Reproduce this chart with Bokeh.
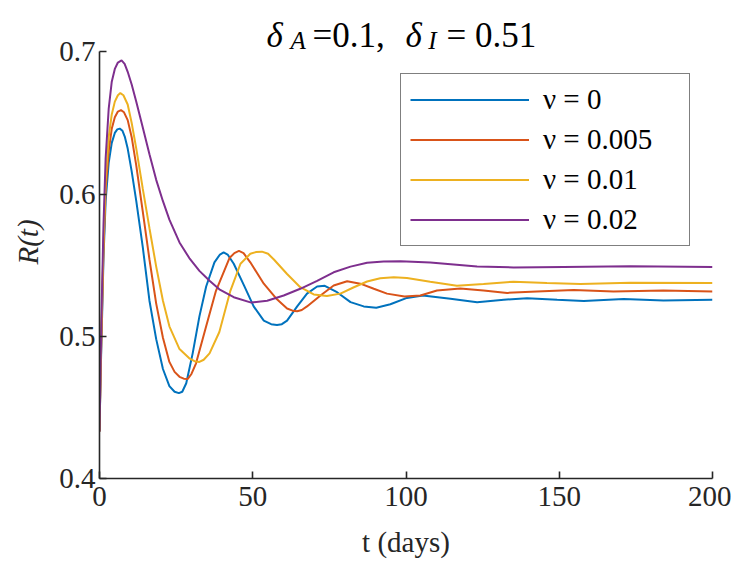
from bokeh.plotting import figure
from bokeh.models import Label, Legend, LegendItem, Range1d, FixedTicker
from bokeh.embed import file_html
from bokeh.resources import INLINE

# ---- data ----
labels = ["ν = 0", "ν = 0.005", "ν = 0.01", "ν = 0.02"]
colors = ["#0072BD", "#D95319", "#EDB120", "#7E2F8E"]

blue_t = [0, 0.4, 0.8, 1.3, 2, 3, 4, 5, 5.8, 6.6, 7.5, 8.3, 9.2, 10.5, 12, 14.1, 16.3, 18.5, 20.7,
          22.8, 24.5, 25.9, 27, 28.3, 30.4, 32.6, 34.8, 37.5, 39.3, 40.5, 41.8, 43.8, 47.1, 50.3,
          53.6, 56, 57.9, 59.5, 61.2, 64.5, 67.7, 71, 73.5, 77.5, 81.9, 86.2, 90.3, 94.9, 100.3,
          105.5, 114.5, 123.2, 131.9, 139.5, 149.3, 158, 171, 184, 200]
blue_r = [0.433, 0.475, 0.51, 0.555, 0.595, 0.622, 0.636, 0.643, 0.6455, 0.646, 0.6445, 0.640,
          0.632, 0.616, 0.595, 0.563, 0.525, 0.498, 0.477, 0.465, 0.461, 0.460, 0.461, 0.467, 0.488,
          0.514, 0.535, 0.552, 0.5575, 0.559, 0.5575, 0.551, 0.536, 0.521, 0.511, 0.5085, 0.508,
          0.5085, 0.511, 0.521, 0.530, 0.535, 0.5355, 0.531, 0.524, 0.521, 0.520, 0.5225, 0.527,
          0.5287, 0.5264, 0.524, 0.5257, 0.5268, 0.5257, 0.5248, 0.5262, 0.5252, 0.5257]

red_t = [0, 0.4, 0.8, 1.3, 2, 3, 4, 5, 6, 7.0, 8, 9.2, 10.5, 12, 14.1, 16.3, 18.5, 20.7, 22.8, 24.5,
         26.1, 27.5, 28.8, 30, 31.5, 34.8, 38, 42.4, 44, 45.5, 47, 49.2, 53.6, 57.9, 61.2, 63,
         64.5, 66, 67.7, 72.1, 76.4, 80.8, 85.1, 89.5, 93.8, 99.5, 104.7, 110.1, 117.7, 125.3, 133,
         142.7, 154.7, 167.7, 184, 200]
red_r = [0.433, 0.478, 0.515, 0.56, 0.603, 0.630, 0.646, 0.654, 0.658, 0.659, 0.6575, 0.652, 0.640,
         0.620, 0.588, 0.554, 0.523, 0.499, 0.482, 0.475, 0.4715, 0.4702, 0.470, 0.4735, 0.481,
         0.507, 0.532, 0.555, 0.5585, 0.560, 0.5585, 0.552, 0.537, 0.526, 0.5195, 0.518, 0.5176,
         0.5185, 0.521, 0.5287, 0.5357, 0.5387, 0.537, 0.5334, 0.530, 0.528, 0.5287, 0.5322,
         0.5336, 0.5322, 0.5305, 0.5315, 0.5326, 0.5315, 0.5322, 0.5315]

yellow_t = [0, 0.4, 0.8, 1.3, 2, 3, 4, 5, 6, 6.8, 7.8, 9.2, 10.5, 12, 14.1, 16.3, 18.5, 20.7, 22.8,
            26.1, 29.3, 31, 32.6, 34, 35.9, 39.1, 42.7, 46, 49.2, 51, 53, 55, 56.9, 61.2, 65.5, 69.9,
            74.2, 78.6, 83, 87.3, 91.6, 96, 100.3, 107.9, 116.6, 125.3, 135.1, 146, 156.9, 173.2, 200]
yellow_r = [0.433, 0.48, 0.52, 0.565, 0.61, 0.640, 0.656, 0.665, 0.6695, 0.671, 0.6695, 0.663,
            0.650, 0.632, 0.604, 0.576, 0.549, 0.525, 0.507, 0.491, 0.4845, 0.4825, 0.482, 0.4835,
            0.488, 0.503, 0.532, 0.551, 0.558, 0.5592, 0.5595, 0.558, 0.554, 0.5438, 0.5345, 0.5294,
            0.5283, 0.530, 0.5345, 0.5385, 0.5408, 0.5415, 0.541, 0.5384, 0.5356, 0.5368, 0.5384,
            0.5375, 0.5368, 0.5377, 0.5375]

purple_t = [0, 0.4, 0.8, 1.3, 2, 3, 4, 5, 6, 7.2, 8.2, 9.2, 10.5, 12, 14.1, 16.3, 18.5, 20.7, 22.8,
            26.1, 29.3, 32.6, 35.9, 39.1, 43.8, 49.5, 54.7, 60.1, 65.5, 71, 76.4, 81.9, 87.3, 92.7,
            98.2, 107.9, 123.2, 135.1, 151.4, 173.2, 200]
purple_r = [0.433, 0.485, 0.53, 0.578, 0.625, 0.660, 0.679, 0.688, 0.6925, 0.694, 0.6915, 0.686,
            0.677, 0.665, 0.647, 0.628, 0.610, 0.595, 0.582, 0.566, 0.555, 0.546, 0.539, 0.533,
            0.5275, 0.5237, 0.525, 0.5287, 0.5334, 0.539, 0.545, 0.549, 0.5517, 0.5526, 0.5528,
            0.5518, 0.549, 0.5484, 0.5488, 0.5493, 0.5488]

x_ticks = [0, 50, 100, 150, 200]
y_ticks = [0.4, 0.5, 0.6, 0.7]
y_axis_span = (0.4, 0.7)

FONT = "Liberation Serif"
AX = "#262626"

# frame extends above 0.7 to host the title; the y axis line is bounded to 0.4..0.7
p = figure(width=731, height=560, x_range=Range1d(0, 200), y_range=Range1d(0.4, 0.7326),
           output_backend="svg", toolbar_location=None,
           min_border_left=99, min_border_right=19, min_border_top=5, min_border_bottom=76)
p.outline_line_color = None
p.xgrid.visible = False
p.ygrid.visible = False
p.background_fill_color = "white"
p.border_fill_color = "white"

series = [(blue_t, blue_r), (red_t, red_r), (yellow_t, yellow_r), (purple_t, purple_r)]
items = []
for (tt, rr), c, lab in zip(series, colors, labels):
    r = p.line(tt, rr, line_color=c, line_width=2)
    items.append(LegendItem(label=lab, renderers=[r]))

for ax in (p.xaxis[0], p.yaxis[0]):
    ax.axis_line_color = AX
    ax.axis_line_width = 1.6
    ax.major_tick_line_color = AX
    ax.major_tick_line_width = 1.6
    ax.major_tick_in = 7
    ax.major_tick_out = 0
    ax.minor_tick_line_color = None
    ax.major_label_text_font = FONT
    ax.major_label_text_font_size = "29px"
    ax.major_label_text_color = AX
    ax.axis_label_text_font = FONT
    ax.axis_label_text_font_size = "29px"
    ax.axis_label_text_color = AX

p.yaxis[0].bounds = y_axis_span
p.xaxis[0].ticker = FixedTicker(ticks=x_ticks)
p.yaxis[0].ticker = FixedTicker(ticks=y_ticks)
p.xaxis[0].major_label_overrides = {0: "0", 50: "50", 100: "100", 150: "150", 200: "200"}
p.yaxis[0].major_label_overrides = {0.4: "0.4", 0.5: "0.5", 0.6: "0.6", 0.7: "0.7"}
p.xaxis[0].major_label_standoff = 8
p.yaxis[0].major_label_standoff = 4
p.xaxis[0].axis_label = "t (days)"
p.xaxis[0].axis_label_text_font_style = "normal"
p.xaxis[0].axis_label_standoff = 17
p.yaxis[0].axis_label = "R(t)"
p.yaxis[0].axis_label_text_font_style = "italic"
p.yaxis[0].axis_label_standoff = 12

legend = Legend(items=items, location=(301, 232), margin=0, padding=9, spacing=7,
                glyph_width=119, glyph_height=33, label_height=33, label_width=137,
                label_standoff=14, border_line_color="black", border_line_width=1.5,
                background_fill_color="white", background_fill_alpha=1.0)
legend.label_text_font = FONT
legend.label_text_font_size = "29px"
legend.label_text_color = "black"
p.add_layout(legend)

# title pieces (delta_A =0.1, delta_I = 0.51)
title_parts = [("δ", 54.5, 0.7116, "italic", "35px"),
               ("A", 62.3, 0.7081, "italic", "25px"),
               ("=0.1,", 69.5, 0.7116, "normal", "35px"),
               ("δ", 99.8, 0.7116, "italic", "35px"),
               ("I", 107.3, 0.7081, "italic", "25px"),
               ("= 0.51", 113.2, 0.7116, "normal", "35px")]
for txt, xx, yy, st, fs in title_parts:
    p.add_layout(Label(x=xx, y=yy, text=txt, text_font=FONT, text_font_size=fs,
                       text_font_style=st, text_baseline="alphabetic", text_align="left",
                       text_color="black"))

open("out.html", "w").write(file_html(p, INLINE))
